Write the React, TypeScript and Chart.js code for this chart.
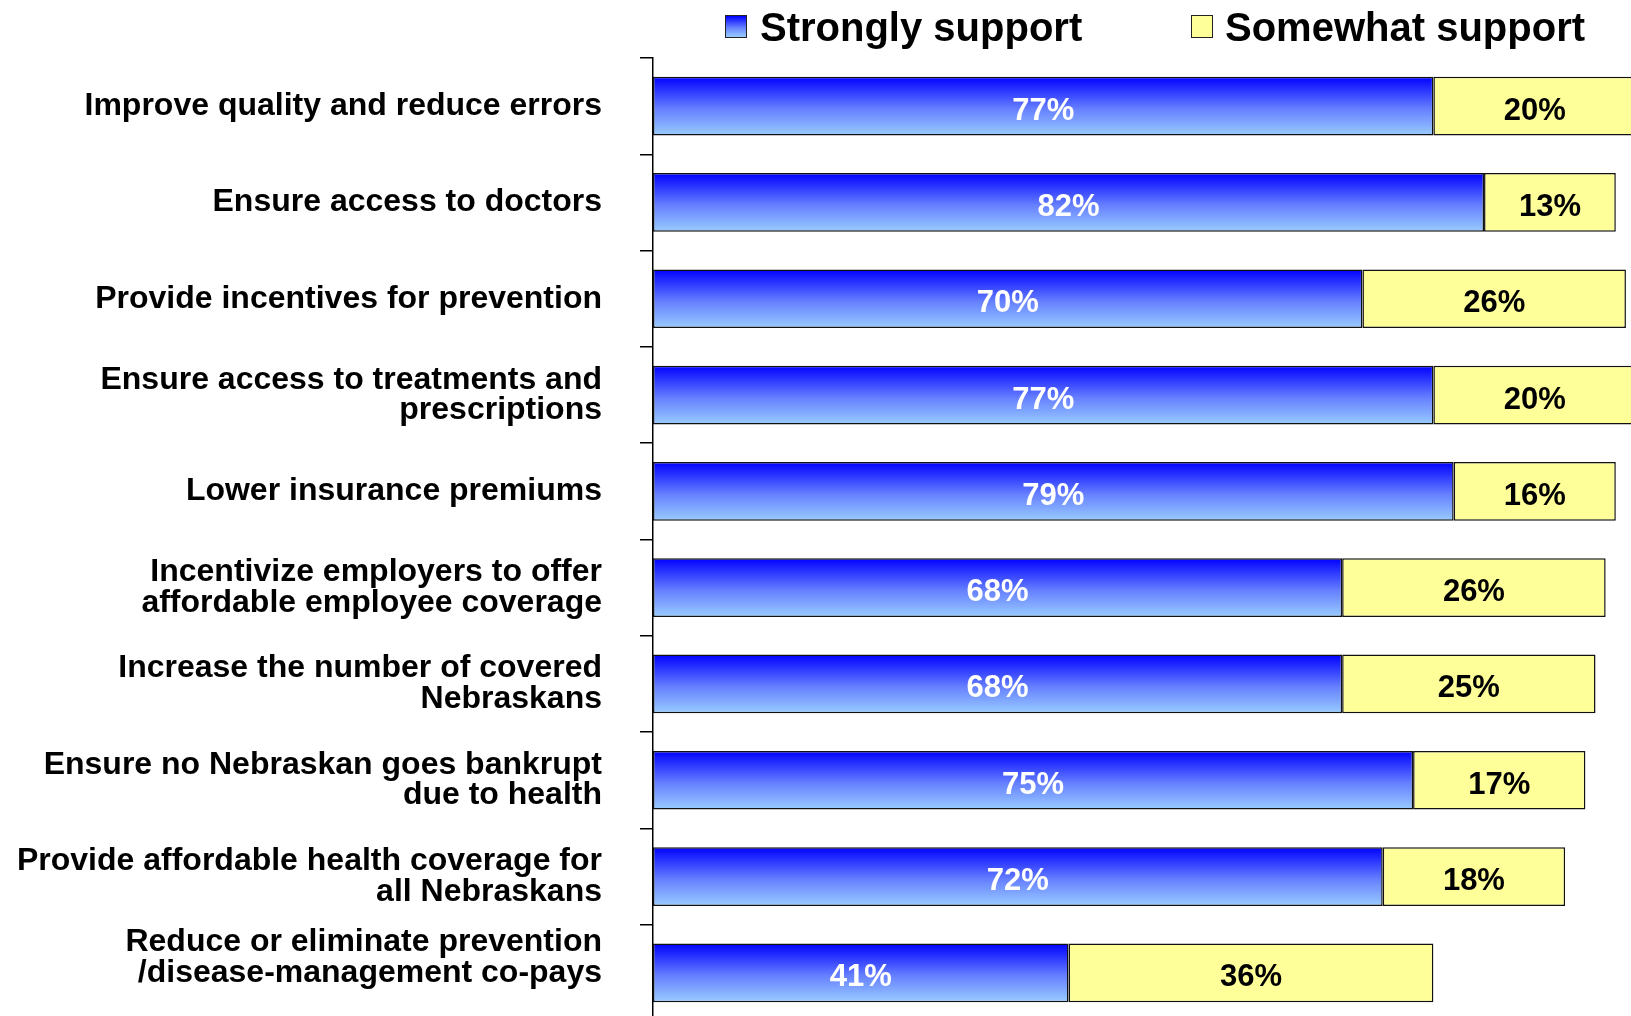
import React, { useEffect, useRef } from "react";
import { Chart, registerables } from "chart.js";

Chart.register(...registerables);

const categories: (string | string[])[] = [
  "Improve quality and reduce errors",
  "Ensure access to doctors",
  "Provide incentives for prevention",
  ["Ensure access to treatments and", "prescriptions"],
  "Lower insurance premiums",
  ["Incentivize employers to offer", "affordable employee coverage"],
  ["Increase the number of covered", "Nebraskans"],
  ["Ensure no Nebraskan goes bankrupt", "due to health"],
  ["Provide affordable health coverage for", "all Nebraskans"],
  ["Reduce or eliminate prevention", "/disease-management co-pays", ""],
];

const stronglySupport = [77, 82, 70, 77, 79, 68, 68, 75, 72, 41];
const somewhatSupport = [20, 13, 26, 20, 16, 26, 25, 17, 18, 36];

const seriesNames = ["Strongly support", "Somewhat support"];

const FONT = "'Liberation Sans', Arial, Helvetica, sans-serif";
const BAR_FRACTION = 0.61;

function blueGradient(ctx: any) {
  const chart = ctx.chart;
  const yScale = chart.scales && chart.scales.y;
  if (ctx.type !== "data" || !yScale || !chart.chartArea) return "#4d66ff";
  const yc = yScale.getPixelForValue(ctx.dataIndex);
  const band = Math.abs(yScale.getPixelForValue(1) - yScale.getPixelForValue(0));
  const h = (band * BAR_FRACTION) / 2;
  const g = chart.ctx.createLinearGradient(0, yc - h, 0, yc + h);
  g.addColorStop(0, "#0000ff");
  g.addColorStop(0.55, "#6680ff");
  g.addColorStop(1, "#99ccff");
  return g;
}

const valueLabels = {
  id: "valueLabels",
  afterDatasetsDraw(chart: any) {
    const c = chart.ctx;
    c.save();
    c.font = `bold 31px ${FONT}`;
    c.textAlign = "center";
    c.textBaseline = "middle";
    chart.data.datasets.forEach((ds: any, di: number) => {
      const meta = chart.getDatasetMeta(di);
      c.fillStyle = di === 0 ? "#ffffff" : "#000000";
      meta.data.forEach((el: any, i: number) => {
        const p = el.getProps(["x", "y", "base"], true);
        const cx = (p.x + p.base) / 2;
        c.fillText(`${ds.data[i]}%`, cx, p.y + 5);
      });
    });
    c.restore();
  },
};

export default function App() {
  const canvasRef = useRef<HTMLCanvasElement | null>(null);

  useEffect(() => {
    if (!canvasRef.current) return;
    const chart = new Chart(canvasRef.current, {
      type: "bar",
      data: {
        labels: categories,
        datasets: [
          {
            label: seriesNames[0],
            data: stronglySupport,
            backgroundColor: blueGradient,
            borderColor: "#111111",
            borderWidth: 1.5,
            borderSkipped: false,
            barPercentage: BAR_FRACTION,
            categoryPercentage: 1,
          },
          {
            label: seriesNames[1],
            data: somewhatSupport,
            backgroundColor: "#ffff99",
            borderColor: "#111111",
            borderWidth: 1.5,
            borderSkipped: false,
            barPercentage: BAR_FRACTION,
            categoryPercentage: 1,
          },
        ],
      },
      options: {
        indexAxis: "y",
        responsive: true,
        maintainAspectRatio: false,
        animation: false,
        layout: { padding: { top: 58, bottom: 3, left: 0, right: 0 } },
        plugins: {
          legend: { display: false },
          tooltip: { enabled: false },
        },
        scales: {
          x: {
            stacked: true,
            min: 0,
            max: 96.5,
            display: false,
          },
          y: {
            stacked: true,
            grid: {
              display: true,
              drawOnChartArea: false,
              drawTicks: true,
              tickLength: 13,
              color: "#000000",
              lineWidth: 1.5,
              offset: true,
            },
            border: { display: true, color: "#000000", width: 1.5 },
            ticks: {
              color: "#000000",
              padding: 38,
              font: { family: FONT, size: 32, weight: "bold", lineHeight: 0.96 },
            },
            afterFit: (scale: any) => {
              scale.width = 653;
              scale.paddingTop = 0;
              scale.paddingBottom = 0;
            },
          },
        },
      },
      plugins: [valueLabels],
    } as any);
    return () => chart.destroy();
  }, []);

  const legendText: React.CSSProperties = {
    position: "absolute",
    top: 7,
    fontFamily: FONT,
    fontWeight: "bold",
    fontSize: 40,
    lineHeight: "40px",
    color: "#000",
    whiteSpace: "nowrap",
  };
  const box: React.CSSProperties = {
    position: "absolute",
    top: 15,
    width: 22,
    height: 23,
    border: "1.5px solid #222",
    boxSizing: "border-box",
  };

  return (
    <div
      style={{
        position: "absolute",
        left: 0,
        top: 0,
        width: 1631,
        height: 1016,
        overflow: "hidden",
        background: "#ffffff",
      }}
    >
      <div style={{ position: "absolute", left: 0, top: 0, width: 1631, height: 1024 }}>
        <canvas ref={canvasRef} />
      </div>
      <div
        style={{
          ...box,
          left: 725,
          background: "linear-gradient(to bottom, #0000ff, #6680ff 55%, #99ccff)",
        }}
      />
      <div style={{ ...legendText, left: 760 }}>{seriesNames[0]}</div>
      <div style={{ ...box, left: 1191, background: "#ffff99" }} />
      <div style={{ ...legendText, left: 1225 }}>{seriesNames[1]}</div>
    </div>
  );
}
